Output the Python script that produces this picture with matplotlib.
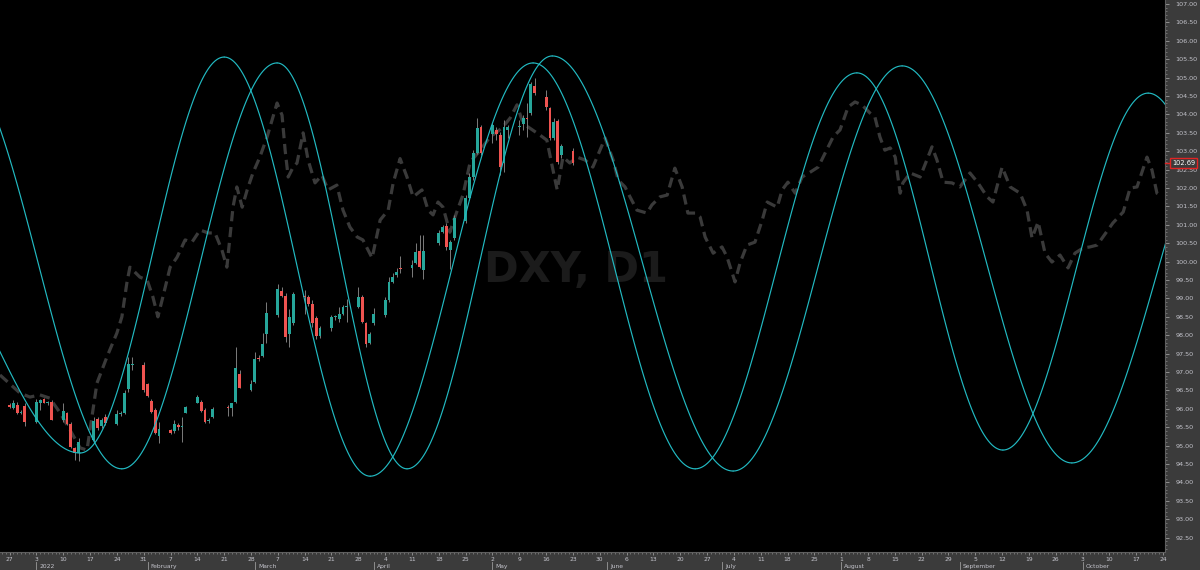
import numpy as np
import matplotlib
matplotlib.use("Agg")
import matplotlib.pyplot as plt
from matplotlib import transforms as mtrans

# ---- daily candles, DXY D1 ----
dates = ["2021-12-27", "2021-12-28", "2021-12-29", "2021-12-30", "2021-12-31",
         "2022-01-03", "2022-01-04", "2022-01-05", "2022-01-06", "2022-01-07",
         "2022-01-10", "2022-01-11", "2022-01-12", "2022-01-13", "2022-01-14",
         "2022-01-18", "2022-01-19", "2022-01-20", "2022-01-21",
         "2022-01-24", "2022-01-25", "2022-01-26", "2022-01-27", "2022-01-28",
         "2022-01-31", "2022-02-01", "2022-02-02", "2022-02-03", "2022-02-04",
         "2022-02-07", "2022-02-08", "2022-02-09", "2022-02-10", "2022-02-11",
         "2022-02-14", "2022-02-15", "2022-02-16", "2022-02-17", "2022-02-18",
         "2022-02-22", "2022-02-23", "2022-02-24", "2022-02-25",
         "2022-02-28", "2022-03-01", "2022-03-02", "2022-03-03", "2022-03-04",
         "2022-03-07", "2022-03-08", "2022-03-09", "2022-03-10", "2022-03-11",
         "2022-03-14", "2022-03-15", "2022-03-16", "2022-03-17", "2022-03-18",
         "2022-03-21", "2022-03-22", "2022-03-23", "2022-03-24", "2022-03-25",
         "2022-03-28", "2022-03-29", "2022-03-30", "2022-03-31", "2022-04-01",
         "2022-04-04", "2022-04-05", "2022-04-06", "2022-04-07", "2022-04-08",
         "2022-04-11", "2022-04-12", "2022-04-13", "2022-04-14",
         "2022-04-18", "2022-04-19", "2022-04-20", "2022-04-21", "2022-04-22",
         "2022-04-25", "2022-04-26", "2022-04-27", "2022-04-28", "2022-04-29",
         "2022-05-02", "2022-05-03", "2022-05-04", "2022-05-05", "2022-05-06",
         "2022-05-09", "2022-05-10", "2022-05-11", "2022-05-12", "2022-05-13",
         "2022-05-16", "2022-05-17", "2022-05-18", "2022-05-19", "2022-05-20",
         "2022-05-23"]
opens = [96.10, 96.02, 96.10, 95.90, 96.08,
         95.65, 96.17, 96.27, 96.16, 96.19,
         95.70, 95.88, 95.59, 94.93, 94.81,
         95.15, 95.72, 95.54, 95.79,
         95.59, 95.86, 95.89, 96.53, 97.20,
         97.19, 96.67, 96.22, 95.97, 95.26,
         95.42, 95.41, 95.55, 95.52, 95.90,
         96.17, 96.19, 95.97, 95.68, 95.79,
         96.04, 96.01, 96.19, 96.95,
         96.51, 96.74, 97.36, 97.44, 98.03,
         98.55, 99.21, 99.07, 98.03, 98.34,
         99.08, 99.03, 98.85, 98.46, 97.98,
         98.20, 98.49, 98.43, 98.59, 98.76,
         98.77, 99.03, 98.34, 97.80, 98.32,
         98.54, 98.97, 99.45, 99.64, 99.82,
         99.84, 99.96, 100.30, 99.77,
         100.50, 100.81, 100.98, 100.33, 100.63,
         101.11, 101.72, 102.29, 102.96, 103.67,
         103.47, 103.59, 103.44, 102.67, 103.58,
         103.66, 103.74, 103.90, 104.03, 104.77,
         104.48, 104.17, 103.35, 103.83, 102.90,
         103.02]
highs = [96.17, 96.24, 96.19, 95.97, 96.15,
         96.26, 96.27, 96.29, 96.22, 96.24,
         96.15, 95.92, 95.65, 94.97, 95.20,
         95.79, 95.79, 95.75, 95.85,
         95.97, 95.95, 96.51, 97.40, 97.40,
         97.28, 96.70, 96.26, 96.01, 95.65,
         95.45, 95.70, 95.61, 95.79, 96.08,
         96.37, 96.24, 96.01, 95.75, 96.06,
         96.10, 96.17, 97.69, 97.05,
         96.78, 97.55, 97.45, 98.05, 98.89,
         99.39, 99.30, 99.14, 98.70, 99.18,
         99.23, 99.10, 98.95, 98.52, 98.25,
         98.55, 98.56, 98.76, 98.82, 98.99,
         99.32, 99.09, 98.37, 98.10, 98.73,
         99.05, 99.59, 99.68, 99.82, 100.14,
         100.04, 100.51, 100.72, 100.72,
         100.86, 101.00, 101.04, 100.59, 101.27,
         101.81, 102.40, 103.03, 103.89, 103.71,
         103.78, 103.67, 103.53, 103.85, 103.71,
         103.85, 103.98, 104.30, 104.89, 104.98,
         104.66, 104.21, 103.89, 103.87, 103.21,
         103.08]
lows = [96.01, 95.99, 95.86, 95.86, 95.53,
        95.61, 95.97, 96.15, 96.10, 95.70,
        95.65, 95.56, 94.93, 94.61, 94.59,
        95.10, 95.42, 95.47, 95.55,
        95.56, 95.80, 95.86, 96.47, 97.05,
        96.47, 96.33, 95.88, 95.33, 95.08,
        95.32, 95.35, 95.43, 95.10, 95.88,
        96.15, 95.92, 95.62, 95.62, 95.74,
        95.80, 95.80, 96.15, 96.56,
        96.49, 96.69, 97.30, 97.40, 97.80,
        98.50, 99.05, 97.82, 97.68, 98.27,
        98.59, 98.80, 98.23, 97.90, 97.92,
        98.12, 98.42, 98.35, 98.54, 98.37,
        98.73, 98.32, 97.67, 97.76, 98.28,
        98.50, 98.91, 99.41, 99.59, 99.68,
        99.59, 99.93, 99.82, 99.54,
        100.45, 100.77, 100.32, 99.79, 100.59,
        101.04, 101.67, 102.22, 102.92, 102.90,
        103.22, 103.30, 102.35, 102.44, 103.35,
        103.44, 103.58, 103.39, 103.98, 104.53,
        104.12, 103.30, 103.30, 102.65, 102.81,
        102.63]
closes = [96.06, 96.15, 95.90, 95.92, 95.65,
          96.18, 96.24, 96.17, 96.18, 95.71,
          95.95, 95.59, 94.95, 94.81, 95.11,
          95.68, 95.47, 95.70, 95.61,
          95.86, 95.90, 96.44, 97.22, 97.23,
          96.51, 96.35, 95.92, 95.35, 95.44,
          95.35, 95.59, 95.50, 95.53, 96.04,
          96.33, 95.95, 95.65, 95.70, 95.99,
          96.02, 96.17, 97.10, 96.58,
          96.67, 97.35, 97.35, 97.76, 98.61,
          99.26, 99.07, 97.94, 98.49, 99.12,
          99.03, 98.85, 98.32, 97.98, 98.20,
          98.49, 98.50, 98.59, 98.76, 98.78,
          99.05, 98.37, 97.76, 98.03, 98.59,
          98.97, 99.45, 99.57, 99.72, 99.79,
          99.90, 100.27, 99.86, 100.29,
          100.77, 100.95, 100.39, 100.54, 101.19,
          101.72, 102.29, 102.94, 103.62, 102.96,
          103.71, 103.47, 102.58, 103.67, 103.65,
          103.68, 103.89, 103.87, 104.84, 104.57,
          104.21, 103.35, 103.80, 102.71, 103.14,
          102.69]

# ---- dashed projection line (days after 2021-12-27, price) ----
proj_days = [-2.5, 2.7, 5.3, 7.9, 10.5, 13.2, 15.8, 18.4, 20.2, 22.8,
             25.4, 28.0, 29.3, 30.6, 31.4, 34.0, 35.9, 37.4, 38.7, 40.0,
             41.9, 43.7, 45.8, 47.6, 49.7, 51.8, 53.6, 55.4, 56.7, 57.5,
             58.3, 59.3, 60.7, 62.0, 63.5, 65.3, 67.2, 68.5, 69.8, 71.1,
             71.9, 72.7, 74.0, 75.0, 76.6, 77.9, 79.7, 81.5, 83.1, 85.4,
             87.0, 88.8, 90.7, 92.2, 94.6, 96.7, 98.8, 100.1, 101.9, 103.7,
             105.3, 107.6, 109.2, 110.5, 111.8, 113.1, 114.9, 116.2, 118.3, 120.2,
             122.2, 125.4, 128.5, 130.6, 132.4, 133.7, 135.3, 138.4, 140.2, 141.8,
             142.9, 144.4, 146.2, 148.1, 150.2, 152.2, 155.4, 157.5, 158.8, 160.6,
             161.9, 163.7, 166.3, 167.6, 169.7, 171.6, 173.6, 175.5, 177.0, 178.9,
             180.2, 181.5, 183.6, 185.9, 187.2, 189.3, 190.6, 192.4, 194.5, 196.4,
             197.7, 200.3, 201.6, 203.1, 205.0, 206.8, 208.9, 211.0, 212.8, 214.9,
             216.7, 218.8, 220.6, 222.4, 224.5, 225.8, 227.1, 228.4, 229.8, 231.1,
             232.4, 233.1, 235.0, 237.6, 240.7, 242.0, 243.6, 245.9, 248.0, 250.6,
             252.7, 255.1, 256.6, 259.0, 261.1, 263.7, 265.5, 266.8, 268.4, 270.2,
             272.0, 274.1, 276.2, 278.0, 280.1, 281.9, 283.8, 285.3, 287.9, 290.6,
             292.4, 294.2, 296.8, 298.1, 299.4, 300.2]
proj_prices = [96.92, 96.43, 96.32, 96.38, 96.29, 95.89, 95.42, 94.94, 94.88, 96.70,
               97.41, 98.06, 98.50, 99.42, 99.85, 99.58, 99.50, 99.04, 98.50, 99.04,
               99.85, 100.12, 100.59, 100.53, 100.86, 100.78, 100.78, 100.32, 99.85, 100.67,
               101.48, 102.03, 101.48, 101.95, 102.41, 102.84, 103.39, 103.85, 104.31, 103.98,
               103.03, 102.30, 102.57, 102.68, 103.50, 102.76, 102.14, 102.35, 101.95, 102.08,
               101.40, 100.94, 100.67, 100.59, 100.10, 101.13, 101.40, 102.14, 102.80, 102.30,
               101.76, 101.95, 101.40, 101.27, 101.62, 101.48, 100.80, 101.21, 101.81, 102.71,
               102.95, 103.39, 103.63, 103.90, 104.26, 103.85, 103.66, 103.44, 103.30, 102.49,
               101.95, 102.84, 102.68, 102.84, 102.76, 102.57, 103.36, 102.76, 102.22, 102.03,
               101.76, 101.40, 101.32, 101.54, 101.76, 101.81, 102.54, 102.03, 101.32, 101.32,
               101.21, 100.67, 100.23, 100.40, 100.13, 99.45, 99.96, 100.45, 100.53, 101.13,
               101.62, 101.48, 101.95, 102.16, 101.86, 102.30, 102.43, 102.57, 102.95, 103.39,
               103.58, 104.20, 104.34, 104.26, 104.04, 103.93, 103.39, 103.03, 103.09, 102.84,
               101.86, 102.14, 102.41, 102.30, 103.12, 102.76, 102.16, 102.14, 102.03, 102.41,
               102.14, 101.76, 101.62, 102.57, 102.03, 101.86, 101.40, 100.64, 101.08, 100.23,
               99.99, 100.18, 99.83, 100.23, 100.37, 100.40, 100.45, 100.67, 101.05, 101.35,
               102.00, 102.03, 102.84, 102.49, 101.86, 101.81]

# ---- cycle curves: turning points (days after 2021-12-27, price) ----
cyc1_days = [-14.2, 29.3, 69.8, 103.7, 141.6, 188.8, 232.9, 277.2, 321.9]
cyc1_prices = [105.48, 94.37, 105.40, 94.37, 105.59, 94.31, 105.32, 94.53, 104.94]
cyc2_days = [-26.0, 18.4, 56.0, 94.1, 136.6, 178.9, 221.1, 259.2, 297.1, 336.2]
cyc2_prices = [100.86, 94.80, 105.56, 94.17, 105.40, 94.37, 105.13, 94.88, 104.58, 94.88]

last_price = 102.69

month_labels = ["2022", "February", "March", "April", "May", "June",
                "July", "August", "September", "October"]
month_starts = ["2022-01-03", "2022-02-01", "2022-03-01", "2022-04-01", "2022-05-02",
                "2022-06-01", "2022-07-01", "2022-08-01", "2022-09-01", "2022-10-03"]

TEAL = "#26a69a"
RED = "#ef5350"
CYAN = "#22bac2"
PANEL = "#3b3b3b"
LABEL = "#c4c4cc"

base = np.datetime64("2021-12-27")


def to_day(s):
    return int((np.datetime64(s) - base).astype(int))


def draw_cycle(ax, days, prices):
    # half-wave between each pair of turning points
    for i in range(len(days) - 1):
        t = np.linspace(0, 1, 80)
        xs = days[i] + (days[i + 1] - days[i]) * t
        ys = prices[i] + (prices[i + 1] - prices[i]) * (1 - np.cos(np.pi * t)) / 2
        ax.plot(xs, ys, color=CYAN, lw=0.85, zorder=5, solid_capstyle="round")


fig = plt.figure(figsize=(12, 5.7), dpi=100, facecolor=PANEL)
ax = fig.add_axes([0, 18 / 570, 1165 / 1200, 552 / 570])
ax.set_facecolor("black")

ax.set_xlim(-2.5, 301.5)
ax.set_ylim(92.11, 107.11)

# watermark
ax.text(0.494, 0.511, "DXY, D1", transform=ax.transAxes, fontsize=30,
        fontweight="bold", color="#1b1b1b", ha="center", va="center", zorder=0)

# projection
ax.plot(proj_days, proj_prices, color="#3a3a3a", lw=2.3, dashes=(3.2, 1.8), zorder=2)

# candles
x = np.array([to_day(d) for d in dates])
o = np.array(opens)
h = np.array(highs)
l = np.array(lows)
c = np.array(closes)
cols = np.where(c >= o, TEAL, RED)
ax.vlines(x, l, h, color="#7c7c7c", lw=0.7, zorder=3)
ax.bar(x, np.maximum(np.abs(c - o), 0.025), 0.74, bottom=np.minimum(o, c),
       color=cols, linewidth=0, zorder=4)

# cycles
draw_cycle(ax, cyc1_days, cyc1_prices)
draw_cycle(ax, cyc2_days, cyc2_prices)

# right price scale
ax.yaxis.tick_right()
yt = np.arange(92.5, 107.01, 0.5)
ax.set_yticks(yt)
ax.set_yticklabels(["%.2f" % v for v in yt])
ax.set_yticks(np.arange(92.2, 107.1, 0.1), minor=True)
ax.tick_params(axis="y", which="major", labelsize=4.6, colors="#9a9a9a",
               labelcolor=LABEL, length=3, width=0.6, pad=4.5)
ax.tick_params(axis="y", which="minor", colors="#8a8a8a", length=1.2, width=0.5)

# time scale
mondays = np.arange(0, 302, 7)
ax.set_xticks(mondays)
ax.set_xticklabels([str((base + np.timedelta64(int(m), "D")).astype(object).day) for m in mondays])
ax.set_xticks(np.arange(-2, 302, 1), minor=True)
ax.tick_params(axis="x", which="major", labelsize=4.3, colors="#9a9a9a",
               labelcolor=LABEL, length=2.5, width=0.6, pad=1.2)
ax.tick_params(axis="x", which="minor", colors="#8a8a8a", length=1.2, width=0.5)

blend = mtrans.blended_transform_factory(ax.transData, ax.transAxes)
for name, start in zip(month_labels, month_starts):
    d = to_day(start)
    ax.plot([d, d], [-0.019, -0.031], transform=blend, color="#9a9a9a",
            lw=0.6, clip_on=False)
    ax.text(d + 0.8, -0.0255, name, transform=blend, fontsize=4.3,
            color=LABEL, ha="left", va="center", clip_on=False)

for side in ["top", "left"]:
    ax.spines[side].set_visible(False)
ax.spines["right"].set_color("#5e5e5e")
ax.spines["bottom"].set_color("#5e5e5e")

# last price marker
yblend = mtrans.blended_transform_factory(ax.transAxes, ax.transData)
ax.plot([1.0, 1.0 + 5 / 1165], [last_price, last_price], transform=yblend,
        color="#e02424", lw=1.0, clip_on=False, zorder=6)
ax.text(1.0 + 7 / 1165, last_price, "%.2f" % last_price, transform=yblend,
        fontsize=4.8, color="white", ha="left", va="center", clip_on=False, zorder=7,
        bbox=dict(boxstyle="square,pad=0.3", fc=PANEL, ec="#e02424", lw=1.0))

fig.savefig("out.png", dpi=100, facecolor=fig.get_facecolor())
